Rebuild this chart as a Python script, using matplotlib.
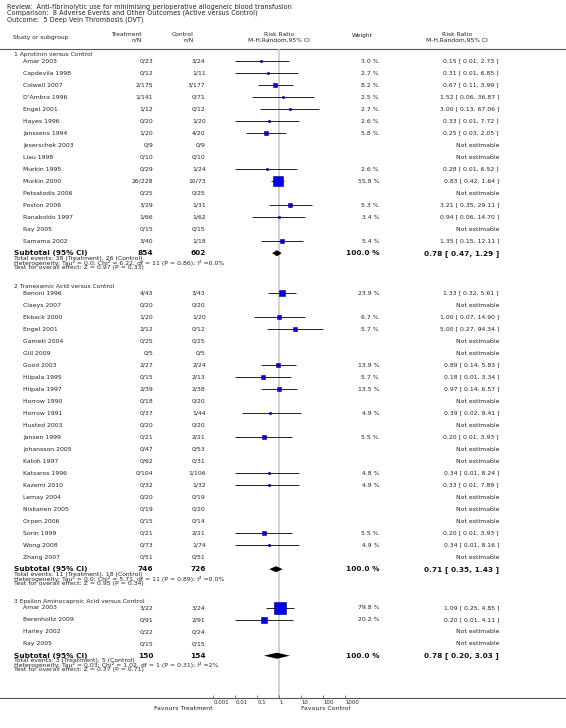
import numpy as np
import matplotlib
matplotlib.use("Agg")
import matplotlib.pyplot as plt

plt.rcParams['font.family'] = ['DejaVu Sans']

# ---------------- data ----------------
title_lines = [
    "Review:  Anti-fibrinolytic use for minimising perioperative allogeneic blood transfusion",
    "Comparison:  8 Adverse Events and Other Outcomes (Active versus Control)",
    "Outcome:  5 Deep Vein Thrombosis (DVT)",
]

g1_name = "1 Aprotinin versus Control"
g1_studies = ["Amar 2003", "Capdevila 1998", "Colwell 2007", "D'Ambra 1996", "Engel 2001",
              "Hayes 1996", "Janssens 1994", "Jeserschek 2003", "Llau 1998", "Murkin 1995",
              "Murkin 2000", "Petsatodis 2006", "Poston 2006", "Ranaboldo 1997", "Ray 2005",
              "Samama 2002"]
g1_treat = ["0/23", "0/12", "2/175", "1/141", "1/12", "0/20", "1/20", "0/9", "0/10", "0/29",
            "26/228", "0/25", "3/29", "1/66", "0/15", "3/40"]
g1_ctrl = ["3/24", "1/11", "3/177", "0/71", "0/12", "1/20", "4/20", "0/9", "0/10", "1/24",
           "10/73", "0/25", "1/31", "1/62", "0/15", "1/18"]
g1_weight = [3.0, 2.7, 8.2, 2.5, 2.7, 2.6, 5.8, None, None, 2.6, 55.8, None, 5.3, 3.4, None, 5.4]
g1_rr = [0.15, 0.31, 0.67, 1.52, 3.00, 0.33, 0.25, None, None, 0.28, 0.83, None, 3.21, 0.94, None, 1.35]
g1_lo = [0.01, 0.01, 0.11, 0.06, 0.13, 0.01, 0.03, None, None, 0.01, 0.42, None, 0.35, 0.06, None, 0.15]
g1_hi = [2.73, 6.85, 3.99, 36.87, 67.06, 7.72, 2.05, None, None, 6.52, 1.64, None, 29.11, 14.70, None, 12.11]
g1_total = ("854", "602")
g1_sub = (0.78, 0.47, 1.29)
g1_notes = ["Total events: 38 (Treatment), 26 (Control)",
            "Heterogeneity: Tau\u00b2 = 0.0; Chi\u00b2 = 6.22, df = 11 (P = 0.86); I\u00b2 =0.0%",
            "Test for overall effect: Z = 0.97 (P = 0.33)"]

g2_name = "2 Tranexamic Acid versus Control"
g2_studies = ["Benoni 1996", "Claeys 2007", "Ekback 2000", "Engel 2001", "Garneti 2004", "Gill 2009",
              "Good 2003", "Hiipala 1995", "Hiipala 1997", "Horrow 1990", "Horrow 1991", "Husted 2003",
              "Jansen 1999", "Johansson 2005", "Katoh 1997", "Katsaros 1996", "Kazemi 2010",
              "Lemay 2004", "Niskanen 2005", "Orpen 2006", "Sorin 1999", "Wong 2008", "Zhang 2007"]
g2_treat = ["4/43", "0/20", "1/20", "2/12", "0/25", "0/5", "2/27", "0/15", "2/39", "0/18", "0/37",
            "0/20", "0/21", "0/47", "0/62", "0/104", "0/32", "0/20", "0/19", "0/15", "0/21", "0/73", "0/51"]
g2_ctrl = ["3/43", "0/20", "1/20", "0/12", "0/25", "0/5", "2/24", "2/13", "2/38", "0/20", "1/44",
           "0/20", "2/21", "0/53", "0/31", "1/106", "1/32", "0/19", "0/20", "0/14", "2/21", "1/74", "0/51"]
g2_weight = [23.9, None, 6.7, 5.7, None, None, 13.9, 5.7, 13.5, None, 4.9, None, 5.5, None, None,
             4.8, 4.9, None, None, None, 5.5, 4.9, None]
g2_rr = [1.33, None, 1.00, 5.00, None, None, 0.89, 0.18, 0.97, None, 0.39, None, 0.20, None, None,
         0.34, 0.33, None, None, None, 0.20, 0.34, None]
g2_lo = [0.32, None, 0.07, 0.27, None, None, 0.14, 0.01, 0.14, None, 0.02, None, 0.01, None, None,
         0.01, 0.01, None, None, None, 0.01, 0.01, None]
g2_hi = [5.61, None, 14.90, 94.34, None, None, 5.83, 3.34, 6.57, None, 9.41, None, 3.93, None, None,
         8.24, 7.89, None, None, None, 3.93, 8.16, None]
g2_total = ("746", "726")
g2_sub = (0.71, 0.35, 1.43)
g2_notes = ["Total events: 11 (Treatment), 18 (Control)",
            "Heterogeneity: Tau\u00b2 = 0.0; Chi\u00b2 = 5.71, df = 11 (P = 0.89); I\u00b2 =0.0%",
            "Test for overall effect: Z = 0.95 (P = 0.34)"]

g3_name = "3 Epsilon Aminocaproic Acid versus Control"
g3_studies = ["Amar 2003", "Berenholtz 2009", "Harley 2002", "Ray 2005"]
g3_treat = ["3/22", "0/91", "0/22", "0/15"]
g3_ctrl = ["3/24", "2/91", "0/24", "0/15"]
g3_weight = [79.8, 20.2, None, None]
g3_rr = [1.09, 0.20, None, None]
g3_lo = [0.25, 0.01, None, None]
g3_hi = [4.85, 4.11, None, None]
g3_total = ("150", "154")
g3_sub = (0.78, 0.20, 3.03)
g3_notes = ["Total events: 3 (Treatment), 5 (Control)",
            "Heterogeneity: Tau\u00b2 = 0.03; Chi\u00b2 = 1.02, df = 1 (P = 0.31); I\u00b2 =2%",
            "Test for overall effect: Z = 0.37 (P = 0.71)"]

tick_values = [0.001, 0.01, 0.1, 1, 10, 100, 1000]
tick_labels = ["0.001", "0.01", "0.1", "1", "10", "100", "1000"]

groups = [
    (g1_name, g1_studies, g1_treat, g1_ctrl, g1_weight, g1_rr, g1_lo, g1_hi, g1_total, g1_sub, g1_notes),
    (g2_name, g2_studies, g2_treat, g2_ctrl, g2_weight, g2_rr, g2_lo, g2_hi, g2_total, g2_sub, g2_notes),
    (g3_name, g3_studies, g3_treat, g3_ctrl, g3_weight, g3_rr, g3_lo, g3_hi, g3_total, g3_sub, g3_notes),
]

# ---------------- layout (pixels) ----------------
W, H = 566, 728
DPI = 100
TXT = '#222222'
fig = plt.figure(figsize=(W / DPI, H / DPI), dpi=DPI)
fig.patch.set_facecolor('white')

bg = fig.add_axes([0, 0, 1, 1])
bg.set_xlim(0, W)
bg.set_ylim(H, 0)
bg.axis('off')

AX_TOP, AX_BOT = 49, 698
X_LO, X_HI = 213.3, 345.3
ax = fig.add_axes([X_LO / W, (H - AX_BOT) / H, (X_HI - X_LO) / W, (AX_BOT - AX_TOP) / H])
ax.set_xscale('log')
ax.set_xlim(0.001, 1000)
ax.set_ylim(AX_BOT, AX_TOP)
ax.patch.set_alpha(0)
for s in ax.spines.values():
    s.set_visible(False)
ax.set_yticks([])
ax.set_xticks(tick_values)
ax.set_xticklabels(tick_labels)
ax.minorticks_off()
ax.tick_params(axis='x', direction='in', length=2.2, width=0.5, color='#444444',
               labelsize=3.9, labelcolor=TXT, pad=1.2)
for lab in ax.get_xticklabels():
    lab.set_horizontalalignment('left')
ax.axvline(1, color='#cfcfcf', lw=1.3, zorder=0)

# title
for i, t in enumerate(title_lines):
    bg.text(7, 6.5 + 6.5 * i, t, fontsize=4.7, color=TXT, va='center', ha='left')

# column headers
HFS = 4.3
bg.text(13, 37.3, "Study or subgroup", fontsize=HFS, color=TXT, va='center', ha='left')
bg.text(142, 35, "Treatment", fontsize=HFS, color=TXT, va='center', ha='right')
bg.text(142, 40.5, "n/N", fontsize=HFS, color=TXT, va='center', ha='right')
bg.text(194, 35, "Control", fontsize=HFS, color=TXT, va='center', ha='right')
bg.text(194, 40.5, "n/N", fontsize=HFS, color=TXT, va='center', ha='right')
bg.text(279.3, 35, "Risk Ratio", fontsize=HFS, color=TXT, va='center', ha='center')
bg.text(279.3, 40.5, "M-H,Random,95% CI", fontsize=HFS, color=TXT, va='center', ha='center')
bg.text(373, 35, "Weight", fontsize=HFS, color=TXT, va='center', ha='right')
bg.text(457, 35, "Risk Ratio", fontsize=HFS, color=TXT, va='center', ha='center')
bg.text(457, 40.5, "M-H,Random,95% CI", fontsize=HFS, color=TXT, va='center', ha='center')

bg.plot([0, W], [AX_TOP, AX_TOP], color='#555555', lw=0.8)
bg.plot([0, W], [AX_BOT, AX_BOT], color='#555555', lw=0.8)

X_NAME, X_TR, X_CT, X_WT, X_RR = 23, 153.3, 205.7, 379, 499
SFS = 4.4
ROW = 12.0
group_headers_y = [54.5, 286.5, 601.0]

for gi, (gname, studies, tr, ct, wt, rr, lo, hi, tot, sub, notes) in enumerate(groups):
    y0 = group_headers_y[gi]
    bg.text(14, y0, gname, fontsize=4.3, color=TXT, va='center', ha='left')
    y = y0 + 6.7
    for k in range(len(studies)):
        yy = y + ROW * k
        bg.text(X_NAME, yy, studies[k], fontsize=SFS, color=TXT, va='center', ha='left')
        bg.text(X_TR, yy, tr[k], fontsize=SFS, color=TXT, va='center', ha='right')
        bg.text(X_CT, yy, ct[k], fontsize=SFS, color=TXT, va='center', ha='right')
        if rr[k] is None:
            bg.text(X_RR, yy, "Not estimable", fontsize=SFS, color=TXT, va='center', ha='right')
        else:
            bg.text(X_WT, yy, "%.1f %%" % wt[k], fontsize=SFS, color=TXT, va='center', ha='right')
            bg.text(X_RR, yy, "%.2f [ %.2f, %.2f ]" % (rr[k], lo[k], hi[k]),
                    fontsize=SFS, color=TXT, va='center', ha='right')
            ax.plot([lo[k], hi[k]], [yy, yy], color='#222222', lw=0.7, solid_capstyle='butt', zorder=2)
            side_px = 1.34 * np.sqrt(wt[k])
            ax.plot([rr[k]], [yy], marker='s', markersize=side_px * 72 / DPI,
                    markerfacecolor='#0000ee', markeredgecolor='#000080',
                    markeredgewidth=0.4, linestyle='none', zorder=3)
    ys = y + ROW * len(studies)
    bg.text(14, ys, "Subtotal (95% CI)", fontsize=5.3, fontweight='bold', color='#111111', va='center', ha='left')
    bg.text(X_TR, ys, tot[0], fontsize=5.3, fontweight='bold', color='#111111', va='center', ha='right')
    bg.text(X_CT, ys, tot[1], fontsize=5.3, fontweight='bold', color='#111111', va='center', ha='right')
    bg.text(X_WT, ys, "100.0 %", fontsize=5.3, fontweight='bold', color='#111111', va='center', ha='right')
    bg.text(X_RR, ys, "%.2f [ %.2f, %.2f ]" % sub, fontsize=5.3, fontweight='bold',
            color='#111111', va='center', ha='right')
    est, slo, shi = sub
    ax.fill([slo, est, shi, est], [ys, ys - 3, ys, ys + 3], color='black', lw=0, zorder=3)
    for j, nt in enumerate(notes):
        bg.text(14, ys + 5.2 + 4.5 * j, nt, fontsize=4.4, color=TXT, va='center', ha='left')

bg.text(213, 709, "Favours Treatment", fontsize=4.5, color=TXT, va='center', ha='right')
bg.text(301, 709, "Favours Control", fontsize=4.5, color=TXT, va='center', ha='left')

fig.savefig("out.png", dpi=DPI)
